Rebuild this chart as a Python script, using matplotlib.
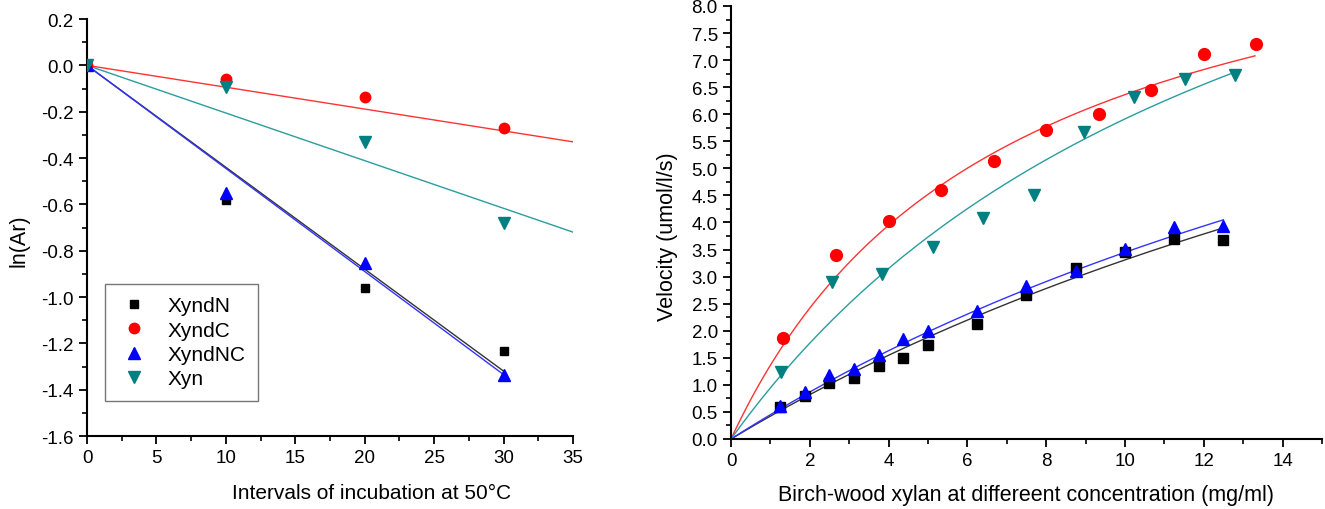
import numpy as np
import matplotlib
matplotlib.use('Agg')
import matplotlib.pyplot as plt
from matplotlib.ticker import MultipleLocator, FormatStrFormatter

plt.rcParams['font.family'] = ['Liberation Sans', 'DejaVu Sans']

# left panel: ln(Ar) vs incubation time
names = ['XyndN', 'XyndC', 'XyndNC', 'Xyn']
colors = ['black', '#ff0000', '#0000ff', '#008080']
line_colors = ['#333333', '#ff3333', '#3333ff', '#2a9d9d']
markers = ['s', 'o', '^', 'v']
msizes = [6, 7.5, 8, 8]

t = [0, 10, 20, 30]
ln_ar = [
    [0, -0.582, -0.96, -1.235],
    [0, -0.058, -0.138, -0.27],
    [0, -0.55, -0.855, -1.335],
    [0, -0.095, -0.33, -0.68],
]
# linear fits through origin
fit_slope = [-0.0440, -0.00943, -0.0445, -0.02057]
fit_xmax = [30, 35, 30, 35]

# right panel: velocity vs substrate concentration
conc_n = [1.25, 1.875, 2.5, 3.125, 3.75, 4.375, 5.0, 6.25, 7.5, 8.75, 10.0, 11.25, 12.5]
vel_n = [0.60, 0.79, 1.04, 1.13, 1.35, 1.50, 1.73, 2.12, 2.66, 3.16, 3.45, 3.69, 3.68]
conc_nc = [1.25, 1.875, 2.5, 3.125, 3.75, 4.375, 5.0, 6.25, 7.5, 8.75, 10.0, 11.25, 12.5]
vel_nc = [0.61, 0.87, 1.18, 1.30, 1.56, 1.84, 1.99, 2.36, 2.82, 3.11, 3.51, 3.91, 3.93]
conc_c = [1.33, 2.67, 4.0, 5.33, 6.67, 8.0, 9.33, 10.67, 12.0, 13.33]
vel_c = [1.87, 3.40, 4.02, 4.60, 5.13, 5.71, 6.00, 6.45, 7.11, 7.29]
conc_x = [1.28, 2.56, 3.84, 5.12, 6.40, 7.68, 8.96, 10.24, 11.52, 12.8]
vel_x = [1.24, 2.90, 3.04, 3.54, 4.08, 4.50, 5.68, 6.31, 6.66, 6.72]

# Michaelis-Menten fit parameters (order: N, C, NC, Xyn)
vmax = [13.73, 10.74, 13.38, 14.24]
km = [31.5, 6.88, 28.8, 14.08]
fit_smax = [12.5, 13.3, 12.5, 12.8]

fig = plt.figure(figsize=(13.25, 5.1), dpi=100)
ax1 = fig.add_axes([0.0657, 0.1431, 0.3668, 0.8176])
ax2 = fig.add_axes([0.5517, 0.1373, 0.446, 0.849])

for i in range(4):
    xs = np.array([0, fit_xmax[i]])
    ax1.plot(xs, fit_slope[i] * xs, color=line_colors[i], lw=1.0, zorder=2)
for i in range(4):
    ax1.plot(t, ln_ar[i], linestyle='none', marker=markers[i], ms=msizes[i],
             color=colors[i], label=names[i], zorder=3)

ax1.set_xlim(0, 35)
ax1.set_ylim(-1.6, 0.2)
ax1.xaxis.set_major_locator(MultipleLocator(5))
ax1.xaxis.set_minor_locator(MultipleLocator(2.5))
ax1.yaxis.set_major_locator(MultipleLocator(0.2))
ax1.yaxis.set_minor_locator(MultipleLocator(0.1))
ax1.yaxis.set_major_formatter(FormatStrFormatter('%.1f'))
ax1.set_xlabel('Intervals of incubation at 50°C', fontsize=15)
ax1.xaxis.set_label_coords(0.585, -0.112)
ax1.set_ylabel('ln(Ar)', fontsize=15.5)
ax1.yaxis.set_label_coords(-0.118, 0.47)
leg = ax1.legend(loc='lower left', bbox_to_anchor=(0.015, 0.06), fontsize=15,
                 frameon=True, fancybox=False, edgecolor='#555555',
                 handletextpad=0.8, borderpad=0.6, labelspacing=0.25,
                 handlelength=1.6)
leg.get_frame().set_linewidth(1.0)

datasets = [(conc_n, vel_n), (conc_c, vel_c), (conc_nc, vel_nc), (conc_x, vel_x)]
for i in range(4):
    s = np.linspace(0, fit_smax[i], 200)
    ax2.plot(s, vmax[i] * s / (km[i] + s), color=line_colors[i], lw=1.0, zorder=2)
for i in [0, 2, 1, 3]:
    xs, ys = datasets[i]
    ax2.plot(xs, ys, linestyle='none', marker=markers[i], ms=msizes[i] + 1,
             color=colors[i], zorder=3)

ax2.set_xlim(0, 15)
ax2.set_ylim(0, 8.0)
ax2.xaxis.set_major_locator(MultipleLocator(2))
ax2.xaxis.set_minor_locator(MultipleLocator(1))
ax2.yaxis.set_major_locator(MultipleLocator(0.5))
ax2.yaxis.set_minor_locator(MultipleLocator(0.25))
ax2.yaxis.set_major_formatter(FormatStrFormatter('%.1f'))
ax2.set_xlabel('Birch-wood xylan at differeent concentration (mg/ml)', fontsize=15.5)
ax2.xaxis.set_label_coords(0.5, -0.105)
ax2.set_ylabel('Velocity (umol/l/s)', fontsize=15.5)
ax2.yaxis.set_label_coords(-0.09, 0.47)

for ax in (ax1, ax2):
    ax.spines['top'].set_visible(False)
    ax.spines['right'].set_visible(False)
    ax.spines['left'].set_linewidth(1.5)
    ax.spines['bottom'].set_linewidth(1.5)
    ax.tick_params(which='major', direction='out', length=6, width=1.3, labelsize=13.5)
    ax.tick_params(which='minor', direction='out', length=3.5, width=1.2)

fig.savefig('out.png', dpi=100)
